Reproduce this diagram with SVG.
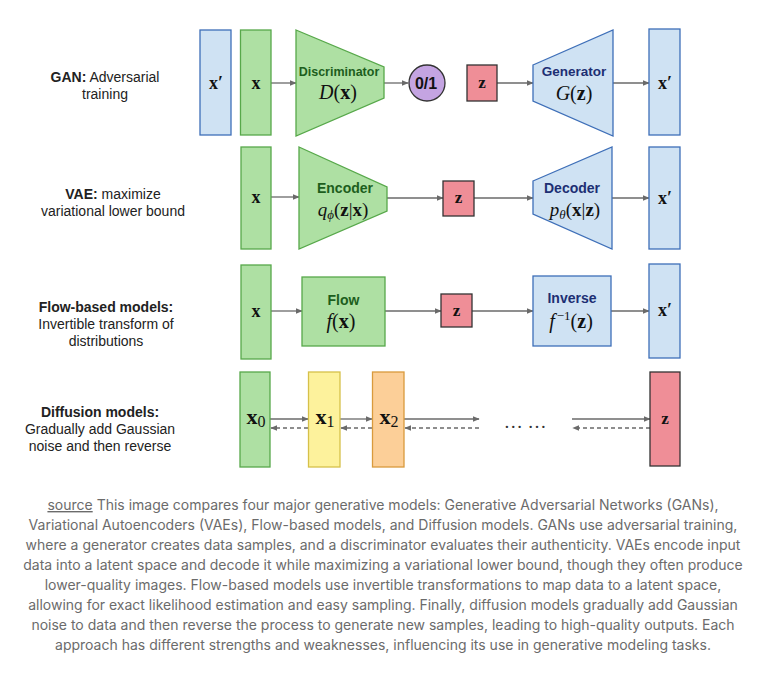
<svg xmlns="http://www.w3.org/2000/svg" width="767" height="673" viewBox="0 0 767 673">
<style>
.lbl{font-family:"Liberation Sans",Arial,sans-serif;font-size:14px;fill:#222;text-anchor:middle}
.b{font-weight:bold}
.green{fill:#aee0a3;stroke:#57a84a;stroke-width:1.3}
.blue{fill:#cfe2f3;stroke:#3e6fb8;stroke-width:1.3}
.pink{fill:#ef8e97;stroke:#333;stroke-width:1.3}
.yellow{fill:#fdf29c;stroke:#d6c04a;stroke-width:1.3}
.orange{fill:#fccf98;stroke:#d99a3c;stroke-width:1.3}
.purple{fill:#c4a4e2;stroke:#333;stroke-width:1.3}
.m{font-family:"Liberation Serif","DejaVu Serif",serif;fill:#111;text-anchor:middle}
.mb{font-weight:bold}
.mi{font-style:italic}
.gt{font-family:"Liberation Sans",Arial,sans-serif;font-weight:bold;font-size:14px;fill:#1d5e1d;text-anchor:middle}
.bt{font-family:"Liberation Sans",Arial,sans-serif;font-weight:bold;font-size:14px;fill:#1d2f73;text-anchor:middle}
.cap{font-family:Inter,"Liberation Sans",sans-serif;font-size:14px;fill:#6b6b6b;text-anchor:middle}
.arr{stroke:#6a6a6a;stroke-width:1.3;fill:none;marker-end:url(#ah)}
.dash{stroke:#6a6a6a;stroke-width:1.3;fill:none;stroke-dasharray:4 3;marker-end:url(#ah)}
</style>
<defs>
<marker id="ah" viewBox="0 0 10 10" refX="9" refY="5" markerWidth="7" markerHeight="7" markerUnits="userSpaceOnUse" orient="auto">
<path d="M0,1 L10,5 L0,9 z" fill="#6a6a6a"/>
</marker>
</defs>
<rect width="767" height="673" fill="#fff"/>

<g id="labels">
<text class="lbl" x="105" y="82"><tspan class="b">GAN:</tspan> Adversarial</text>
<text class="lbl" x="105" y="99">training</text>
<text class="lbl" x="113" y="199"><tspan class="b">VAE:</tspan> maximize</text>
<text class="lbl" x="113" y="216">variational lower bound</text>
<text class="lbl b" x="106" y="312">Flow-based models:</text>
<text class="lbl" x="106" y="329">Invertible transform of</text>
<text class="lbl" x="106" y="346">distributions</text>
<text class="lbl b" x="100" y="417">Diffusion models:</text>
<text class="lbl" x="100" y="434">Gradually add Gaussian</text>
<text class="lbl" x="100" y="451">noise and then reverse</text>
</g>

<g id="connectors">
<line class="arr" x1="271" y1="83" x2="296" y2="83"/>
<line class="arr" x1="384" y1="83" x2="408" y2="83"/>
<line class="arr" x1="497" y1="83" x2="533" y2="83"/>
<line class="arr" x1="613" y1="83" x2="649" y2="83"/>
<line class="arr" x1="271" y1="197" x2="299" y2="197"/>
<line class="arr" x1="387" y1="198" x2="443" y2="198"/>
<line class="arr" x1="474" y1="198" x2="533" y2="198"/>
<line class="arr" x1="612" y1="198" x2="649" y2="198"/>
<line class="arr" x1="271" y1="311" x2="302" y2="311"/>
<line class="arr" x1="385" y1="311" x2="441" y2="311"/>
<line class="arr" x1="472" y1="311" x2="533" y2="311"/>
<line class="arr" x1="611" y1="311" x2="649" y2="311"/>
<line class="arr" x1="270" y1="419" x2="308" y2="419"/>
<line class="dash" x1="308" y1="428" x2="271" y2="428"/>
<line class="arr" x1="340" y1="419" x2="372" y2="419"/>
<line class="dash" x1="372" y1="428" x2="341" y2="428"/>
<line class="arr" x1="404" y1="419" x2="479" y2="419"/>
<line class="dash" x1="479" y1="428" x2="405" y2="428"/>
<line class="arr" x1="572" y1="419" x2="650" y2="419"/>
<line class="dash" x1="650" y1="428" x2="573" y2="428"/>
</g>

<g id="gan-xprime">
<rect class="blue" x="200" y="30" width="31" height="105"/>
<text class="m mb" x="216" y="89" font-size="18">x′</text>
</g>
<g id="gan-x">
<rect class="green" x="240.5" y="30" width="30.5" height="105"/>
<text class="m mb" x="256" y="89" font-size="18">x</text>
</g>
<g id="discriminator">
<polygon class="green" points="296,30 384,67 384,98 296,136"/>
<text class="gt" x="339" y="76" style="font-size:12.5px">Discriminator</text>
<text class="m" x="338" y="99" font-size="20"><tspan class="mi">D</tspan>(<tspan class="mb">x</tspan>)</text>
</g>
<g id="gan-out">
<circle class="purple" cx="427" cy="83" r="18"/>
<text x="426" y="89" font-family="Liberation Sans,Arial,sans-serif" font-weight="bold" font-size="16" fill="#111" text-anchor="middle">0/1</text>
</g>
<g id="gan-z">
<rect class="pink" x="467" y="65" width="30" height="36"/>
<text class="m mb" x="482" y="88" font-size="17">z</text>
</g>
<g id="generator">
<polygon class="blue" points="533,65 613,30 613,136 533,101"/>
<text class="bt" x="574" y="76" style="font-size:13.5px">Generator</text>
<text class="m" x="574" y="100" font-size="20"><tspan class="mi">G</tspan>(<tspan class="mb">z</tspan>)</text>
</g>
<g id="gan-xout">
<rect class="blue" x="649" y="29" width="31" height="106"/>
<text class="m mb" x="665" y="89" font-size="18">x′</text>
</g>

<g id="vae-x">
<rect class="green" x="241" y="147" width="30" height="102"/>
<text class="m mb" x="256" y="203" font-size="18">x</text>
</g>
<g id="encoder">
<polygon class="green" points="299,147 387,187 387,211 299,249"/>
<text class="gt" x="345" y="193">Encoder</text>
<text class="m" x="343" y="216" font-size="19"><tspan class="mi">q</tspan><tspan class="mi" font-size="13" dy="3">ϕ</tspan><tspan dy="-3">(</tspan><tspan class="mb">z</tspan>|<tspan class="mb">x</tspan>)</text>
</g>
<g id="vae-z">
<rect class="pink" x="443" y="181" width="31" height="35"/>
<text class="m mb" x="458.5" y="203" font-size="17">z</text>
</g>
<g id="decoder">
<polygon class="blue" points="533,181 612,147 612,249 533,214"/>
<text class="bt" x="572" y="193">Decoder</text>
<text class="m" x="575" y="216" font-size="19"><tspan class="mi">p</tspan><tspan class="mi" font-size="13" dy="3">θ</tspan><tspan dy="-3">(</tspan><tspan class="mb">x</tspan>|<tspan class="mb">z</tspan>)</text>
</g>
<g id="vae-xout">
<rect class="blue" x="649" y="147" width="31" height="102"/>
<text class="m mb" x="665" y="204" font-size="18">x′</text>
</g>

<g id="flow-x">
<rect class="green" x="241" y="265" width="30" height="94"/>
<text class="m mb" x="256" y="317" font-size="18">x</text>
</g>
<g id="flow">
<rect class="green" x="302" y="277" width="83" height="69"/>
<text class="gt" x="343.5" y="305">Flow</text>
<text class="m" x="341" y="328" font-size="20"><tspan class="mi">f</tspan>(<tspan class="mb">x</tspan>)</text>
</g>
<g id="flow-z">
<rect class="pink" x="441" y="294" width="31" height="33"/>
<text class="m mb" x="456.5" y="316" font-size="17">z</text>
</g>
<g id="inverse">
<rect class="blue" x="533" y="276" width="78" height="70"/>
<text class="bt" x="572" y="303">Inverse</text>
<text class="m" x="571" y="328" font-size="20"><tspan class="mi">f</tspan><tspan font-size="13" dy="-8" dx="2">−1</tspan><tspan dy="8">(</tspan><tspan class="mb">z</tspan>)</text>
</g>
<g id="flow-xout">
<rect class="blue" x="649" y="264" width="31" height="94"/>
<text class="m mb" x="665" y="316" font-size="18">x′</text>
</g>

<g id="x0">
<rect class="green" x="240" y="372" width="30" height="95"/>
<text class="m" x="256" y="424" font-size="22"><tspan class="mb">x</tspan><tspan font-size="16" dy="3">0</tspan></text>
</g>
<g id="x1">
<rect class="yellow" x="308.5" y="372" width="31.5" height="95"/>
<text class="m" x="325" y="424" font-size="22"><tspan class="mb">x</tspan><tspan font-size="16" dy="3">1</tspan></text>
</g>
<g id="x2">
<rect class="orange" x="372.5" y="372" width="31.5" height="95"/>
<text class="m" x="389" y="424" font-size="22"><tspan class="mb">x</tspan><tspan font-size="16" dy="3">2</tspan></text>
</g>
<g id="dots">
<text x="525" y="428" font-family="Liberation Serif,serif" font-size="19" fill="#333" text-anchor="middle">… …</text>
</g>
<g id="diff-z">
<rect class="pink" x="650" y="372" width="30" height="94"/>
<text class="m mb" x="665" y="424" font-size="17">z</text>
</g>

<g id="caption">
<text class="cap" x="383" y="510"><tspan text-decoration="underline">source</tspan> This image compares four major generative models: Generative Adversarial Networks (GANs),</text>
<text class="cap" x="383" y="530">Variational Autoencoders (VAEs), Flow-based models, and Diffusion models. GANs use adversarial training,</text>
<text class="cap" x="383" y="550">where a generator creates data samples, and a discriminator evaluates their authenticity. VAEs encode input</text>
<text class="cap" x="383" y="570">data into a latent space and decode it while maximizing a variational lower bound, though they often produce</text>
<text class="cap" x="383" y="590">lower-quality images. Flow-based models use invertible transformations to map data to a latent space,</text>
<text class="cap" x="383" y="610">allowing for exact likelihood estimation and easy sampling. Finally, diffusion models gradually add Gaussian</text>
<text class="cap" x="383" y="630">noise to data and then reverse the process to generate new samples, leading to high-quality outputs. Each</text>
<text class="cap" x="383" y="650">approach has different strengths and weaknesses, influencing its use in generative modeling tasks.</text>
</g>
</svg>
